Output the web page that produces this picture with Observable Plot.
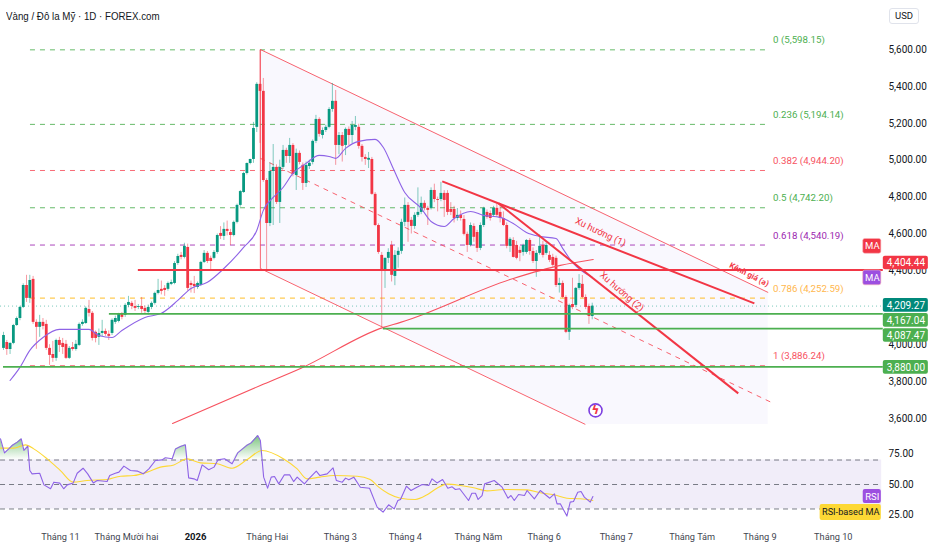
<!DOCTYPE html>
<html><head><meta charset="utf-8">
<script src="https://cdn.jsdelivr.net/npm/d3@7"></script>
<script src="https://cdn.jsdelivr.net/npm/@observablehq/plot@0.6"></script>
<style>
html,body{margin:0;padding:0;background:#fff}
#wrap{position:relative;width:932px;height:550px;overflow:hidden;font-family:Roboto,sans-serif}
#wrap svg{display:block}
#title{position:absolute;left:6px;top:10px;font:11px "Liberation Sans",sans-serif;color:#131722;transform:scaleX(.885);transform-origin:left center;white-space:nowrap}
#usd{position:absolute;left:889px;top:8px;width:28px;height:14px;line-height:14px;text-align:center;font-size:9.5px;color:#131722;border:1px solid #e0e3eb;border-radius:3px}
</style></head><body>
<div id="wrap"><div id="chart"></div><div id="title">Vàng / Đô la Mỹ · 1D · FOREX.com</div><div id="usd">USD</div></div>
<script>
// daily candles: open, high, low, close
const barsA = [[3980,4067,3969,4050],[4012,4023,3942,3974],[3974,4010,3947,4007],[4007,4110,4000,4104],[4104,4150,4099,4142],[4142,4208,4130,4202],[4202,4330,4196,4321],[4321,4376,4229,4251],[4251,4376,4224,4348],[4354,4370,4110,4121],[4121,4135,3975,4094],[4094,4159,4040,4121],[4121,4142,4080,4099],[4110,4132,3969,3980],[3980,4000,3888,3942],[3947,4018,3904,3926],[3926,4030,3910,4023],[4023,4040,3958,3996],[4007,4034,3947,3985],[4002,4023,3920,3926],[3926,3990,3920,3980],[3985,4012,3965,3974],[3974,4023,3965,4002],[3996,4118,3990,4110],[4110,4135,4100,4121],[4115,4205,4110,4197],[4191,4240,4150,4170],[4170,4180,4020,4034],[4067,4075,4010,4034],[4040,4085,3996,4061],[4061,4132,4040,4072],[4072,4085,4045,4056],[4056,4075,4023,4045],[4061,4140,4050,4132],[4121,4155,4110,4142],[4126,4170,4118,4164],[4164,4175,4135,4148],[4159,4222,4148,4213],[4213,4262,4200,4229],[4224,4235,4190,4207],[4207,4240,4180,4197],[4202,4218,4190,4207],[4207,4256,4170,4191],[4197,4210,4165,4180],[4175,4215,4160,4202]];
const barsB = [[4202,4232,4190,4224],[4224,4285,4215,4278],[4278,4354,4270,4294],[4300,4345,4270,4289],[4305,4320,4262,4294],[4300,4340,4290,4332],[4327,4350,4320,4337],[4332,4450,4325,4440],[4440,4490,4430,4478],[4484,4500,4460,4473],[4473,4550,4465,4533],[4527,4545,4290,4305],[4332,4345,4280,4321],[4327,4370,4277,4315],[4310,4340,4300,4332],[4321,4452,4315,4446],[4446,4510,4440,4495],[4495,4505,4440,4451],[4468,4480,4403,4451],[4468,4510,4460,4500],[4500,4600,4490,4592],[4603,4640,4570,4587],[4587,4660,4565,4625],[4625,4670,4590,4614],[4608,4625,4538,4592],[4592,4670,4585,4663],[4663,4762,4655,4755],[4755,4836,4745,4830],[4825,4935,4820,4928],[4928,4985,4920,4982],[4982,5005,4975,5004],[5004,5205,4983,5172],[5178,5420,5150,5411]];
const barsC = [[5411,5595,5091,5373],[5373,5443,4880,4890],[4890,4900,4403,4657],[4657,4985,4640,4939],[4939,5085,4646,4961],[4961,4975,4760,4771],[4771,5000,4657,4961],[4961,5080,4950,5053],[5053,5065,4983,5020],[5020,5118,4983,5080],[5080,5090,4910,4923],[4917,5060,4836,5037],[5037,5050,4975,4988],[4972,4985,4836,4874],[4874,4990,4852,4972],[4966,5000,4950,4983],[4988,5110,4975,5102],[5102,5243,5090,5221],[5221,5230,5125,5140],[5134,5175,5115,5161],[5161,5190,5150,5178],[5178,5285,5170,5275],[5275,5416,5260,5319],[5319,5378,4972,5080],[5080,5150,5030,5134],[5134,5150,4990,5075],[5080,5175,5025,5167],[5167,5180,5080,5134],[5134,5210,5090,5188],[5178,5237,5160,5188],[5178,5195,5060,5075],[5075,5085,4990,5015],[5015,5030,4972,5004],[5000,5042,4955,5010],[5004,5015,4810,4815],[4815,4825,4640,4646],[4646,4655,4490,4500],[4484,4500,4094,4403],[4403,4470,4305,4468],[4468,4520,4440,4500],[4538,4560,4340,4376],[4370,4510,4320,4484],[4484,4525,4415,4506]];
const barsD = [[4506,4680,4490,4663],[4663,4795,4640,4755],[4755,4770,4555,4663],[4674,4690,4600,4641],[4641,4715,4625,4701],[4701,4850,4690,4717],[4717,4800,4705,4766],[4766,4780,4725,4739],[4739,4750,4646,4728],[4739,4850,4730,4836],[4836,4870,4770,4787],[4787,4800,4720,4782],[4787,4880,4775,4820],[4820,4835,4690,4782],[4820,4835,4700,4717],[4733,4770,4700,4717],[4733,4750,4660,4684],[4684,4738,4670,4701],[4701,4725,4670,4684],[4679,4700,4590,4598],[4598,4610,4500,4538],[4538,4660,4530,4646],[4641,4655,4555,4582],[4608,4620,4500,4522],[4522,4660,4510,4646],[4646,4745,4635,4739],[4717,4730,4680,4690],[4711,4725,4670,4684],[4701,4750,4690,4739],[4739,4765,4690,4701],[4717,4760,4660,4684],[4684,4720,4640,4646],[4646,4660,4520,4533],[4533,4580,4500,4571],[4565,4580,4470,4473],[4538,4560,4460,4468],[4511,4530,4450,4495],[4500,4545,4480,4538],[4500,4570,4490,4565],[4565,4575,4485,4505],[4505,4525,4440,4451],[4451,4510,4365,4495],[4495,4595,4485,4533],[4538,4560,4470,4484],[4495,4550,4485,4538],[4484,4505,4445,4457],[4473,4490,4420,4430],[4468,4480,4310,4321],[4321,4360,4280,4332],[4332,4345,4250,4256],[4256,4265,4060,4067],[4067,4220,4023,4213],[4218,4360,4190,4202],[4213,4310,4200,4305],[4305,4380,4295,4332],[4327,4375,4250,4256],[4256,4270,4190,4202],[4207,4220,4110,4153],[4153,4225,4135,4209]];

// moving average 50 [bar, price]
const maLine = [[2,3806],[5,3877],[8,3969],[12,4039],[17,4083],[26,4083],[29,4050],[33,4039],[36,4077],[43,4148],[48,4170],[53,4240],[57,4305],[62,4338],[67,4413],[73,4527],[77,4619],[79,4728],[82,4798],[85,4852],[88,4928],[92,4983],[96,5026],[99,5020],[101,5010],[104,5064],[108,5102],[113,5113],[115.5,5069],[118.5,4955],[122,4825],[127,4739],[130,4668],[134,4641],[137,4684],[142,4722],[146,4701],[151,4690],[155,4657],[159,4608],[163,4587],[168,4576],[170,4522],[173,4446],[179,4365]];
// moving average 200 [bar, price]
const ma200Line = [[51.4,3573],[78.1,3779],[90.3,3871],[115.5,4094],[120.7,4121],[155,4359],[169.3,4430],[179.3,4462]];

// Fibonacci retracement
const fibLevels = [0,0.236,0.382,0.5,0.618,0.786,1];
const fibPrices = [5598.15,5194.14,4944.20,4742.20,4540.19,4252.59,3886.24];
const fibColors = ["#4caf50","#4caf50","#f7525f","#4caf50","#9c27b0","#ffb300","#f7525f"];
const fibText = ["#4caf50","#4caf50","#f7525f","#4caf50","#9c27b0","#ffb74d","#f7525f"];

// price levels [start bar, price, colour]
const levelStart = [41,32.2,115.5,0];
const levelPrice = [4404.44,4167.04,4087.47,3880];
const levelColor = ["#f23645","#4caf50","#4caf50","#4caf50"];
const lastPrice = 4209.27;

// channel [bar, top, bottom]
const channelBars = [78.1,176.9,232.5];
const channelTop = [5600,4760,4283];
const channelBottom = [4413,3568,3568];
const channelLines = [[78.1,5600,232.5,4283],[78.1,4413,176.9,3568],[78.1,5600,78.1,4413]];
const channelMid = [[78.1,5010,233.5,3687]];
const trendLines = [[133.4,4885,228.3,4224],[150.5,4766,223.4,3736]];

const priceTicks = [5600,5400,5200,5000,4800,4600,4400,4000,3800,3600];
const lineLabels = [["Xu hướng (1)",181.5,4610,25.5,9.5,400],["Xu hướng (2)",188,4288,41,9.5,400],["Kênh giá (a)",226.7,4380,27,8,700]];

// price badges
const badgeText = ["4,404.44","4,209.27","4,167.04","4,087.47","3,880.00"];
const badgePrice = [4443,4213,4132,4050,3877];
const badgeFill = ["#f23645","#00897b","#4caf50","#4caf50","#4caf50"];
const tagText = ["MA","MA"];
const tagPrice = [4533,4362];
const tagFill = ["#f23645","#9c4fe0"];

// RSI [bar, value]
const rsiLine = [[-0.9,87.3],[0.3,75.8],[1.6,79.1],[2.6,81.8],[4.2,84.6],[5.4,87.3],[6.2,77.8],[7.4,81.3],[8,61.4],[8.7,58.7],[11,59.2],[12.3,49.7],[14.3,46.5],[15.3,51.9],[17.1,51.1],[18.3,46.5],[19.4,49.7],[21.2,51.3],[22.4,59.2],[24.2,63.3],[25.6,58.7],[27.3,51.3],[28.5,53.3],[31.5,52.4],[32.3,57.3],[34,59.2],[35.1,60.1],[36.6,65],[38.6,61.4],[40.8,60.9],[42.5,58.7],[44.2,62.8],[46.2,69.6],[48.2,70.1],[49.2,71.8],[51.3,71],[52.3,79.1],[53.8,81],[55.3,82.4],[56.3,55.4],[57.9,54.6],[58.9,53.3],[60.4,66],[62.4,62],[64,64.2],[65.2,70.1],[67.2,71],[69.5,66.9],[71.2,75.8],[73.9,81.8],[75.3,84],[77.3,90],[78.1,85.9],[79.1,56],[80.3,47],[81.4,56],[82.4,56.5],[83.7,50.5],[85.4,57.9],[87,57.9],[88.2,52.4],[89.3,56],[91.5,50.5],[92.8,54.6],[95.1,60.9],[96.2,57.3],[98.4,58.7],[100.2,63.6],[101.2,53.3],[103,51.9],[104,55.2],[105,53.8],[106.5,56],[108.5,47.8],[111.3,47],[113.6,31.5],[115.4,27.4],[117.1,33.4],[118.8,30.1],[119.9,36.9],[120.7,37.8],[122.5,48.6],[123.9,45.1],[125.7,47.8],[127.3,50],[129.3,49.2],[130.3,54.6],[131.8,51.3],[133.5,54.1],[135.1,47],[136.4,48.1],[137.4,45.9],[138.7,46.5],[141.4,36.9],[142.4,42.9],[143.5,42.9],[144.3,37.8],[145.5,41],[146.3,50.5],[149.2,53.3],[151.6,47.8],[153.4,38.8],[154.3,41],[155.3,36.9],[156.6,41.8],[158.4,41],[159.2,45.1],[161.4,38.3],[163.2,45.1],[166.1,38.8],[167.5,42.4],[168.3,34.2],[169.3,34.2],[171.3,24.2],[172.3,35.6],[173.3,36.1],[174.6,43.7],[175.6,44.3],[176.6,39.7],[178.4,35.6],[179.2,40.2]];
const rsiMaLine = [[-0.9,79.7],[3.1,79.7],[6.7,82.4],[9.2,79.1],[13.3,70.9],[17.3,61.4],[21.2,51.9],[25.4,53.3],[31.5,54.1],[35.6,56.8],[39.6,57.3],[43.7,60.1],[47.7,64.2],[51.8,66],[55.8,70.9],[59.9,67.7],[65,66.9],[69.5,63.3],[74.1,70.4],[78.6,77.8],[85.2,70.9],[89.3,62.8],[92.3,54.6],[96.2,56],[100.4,57.3],[107.5,56.8],[111.5,54.1],[114.1,47.8],[117.1,42.4],[120.7,38.8],[125.2,37.8],[128.8,41.6],[131.8,47],[134.8,50.3],[138.9,49.2],[143,47.3],[147,44.8],[152.1,45.9],[159.2,45.6],[163.2,43.2],[167.3,41.6],[171.3,38.8],[175.4,38.3],[179.2,36.9]];
const rsiBands = [70,50,30];
const rsiTicks = [75,50,25];

// time axis
const monthBars = [17.3,37.4,80.2,102.4,122.2,144.4,164.4,186.3,209.4,230,252.3];
const monthNames = ["Tháng 11","Tháng Mười hai","Tháng Hai","Tháng 3","Tháng 4","Tháng Năm","Tháng 6","Tháng 7","Tháng Tám","Tháng 9","Tháng 10"];
const yearBar = 58.4, yearName = "2026";

const GREEN="#089981", RED="#f23645", PINK="#f7525f";
const bars = [...barsA,...barsB,...barsC,...barsD].map(([o,h,l,c],i)=>({i,o,h,l,c,col:c>=o?GREEN:RED}));
const xOpt = {domain:[-0.912,267.56],range:[0,883]};
const FONT = "Roboto, sans-serif";
const seg = a=>a.map(([x1,y1,x2,y2])=>({x1,y1,x2,y2}));
const badgeX1=267.5, badgeX2=281.2, tagX1=261.4, tagX2=266.9;

const main = Plot.plot({
  width:932,height:430,marginTop:0,marginLeft:0,marginRight:49,marginBottom:0,
  style:{fontFamily:FONT,background:"transparent"},
  x:{...xOpt,axis:null},
  y:{domain:[3600,5600],range:[418,49],axis:null},
  color:{type:"identity"},
  marks:[
    Plot.area(channelBars.map((b,k)=>({b,t:channelTop[k],u:channelBottom[k]})),{x1:"b",y1:"t",y2:"u",fill:"#f9f8fe"}),
    Plot.ruleY(fibPrices.map((p,k)=>({p,c:fibColors[k]})),{y:"p",x1:8.2,x2:232,stroke:"c",strokeWidth:1,strokeOpacity:.85,strokeDasharray:"5 5"}),
    Plot.ruleY([lastPrice],{x1:-0.9,x2:267.5,stroke:"#089981",strokeOpacity:.55,strokeWidth:1,strokeDasharray:"1 3"}),
    Plot.link(seg(channelLines),{x1:"x1",y1:"y1",x2:"x2",y2:"y2",stroke:PINK,strokeWidth:1,strokeOpacity:.9}),
    Plot.link(seg(channelMid),{x1:"x1",y1:"y1",x2:"x2",y2:"y2",stroke:PINK,strokeWidth:1,strokeOpacity:.9,strokeDasharray:"5 5"}),
    Plot.ruleX(bars,{x:"i",y1:"l",y2:"h",stroke:"col",strokeWidth:1,strokeOpacity:.5}),
    Plot.ruleX(bars,{x:"i",y1:"o",y2:"c",stroke:"col",strokeWidth:2.8}),
    Plot.line(ma200Line,{x:d=>d[0],y:d=>d[1],stroke:PINK,strokeWidth:1.1,curve:"monotone-x"}),
    Plot.line(maLine,{x:d=>d[0],y:d=>d[1],stroke:"#8e63e6",strokeWidth:1.1,curve:"monotone-x"}),
    Plot.link(seg(trendLines),{x1:"x1",y1:"y1",x2:"x2",y2:"y2",stroke:RED,strokeWidth:2}),
    Plot.ruleY(levelPrice.map((p,k)=>({p,s:levelStart[k],c:levelColor[k]})),{y:"p",x1:"s",x2:267.5,stroke:"c",strokeWidth:d=>d.p>4400?2:1.7}),
    Plot.text(fibLevels.map((l,k)=>({t:`${l} (${d3.format(",.2f")(fibPrices[k])})`,p:fibPrices[k],c:fibText[k]})),{x:234,y:"p",dy:-9.5,text:"t",fill:"c",textAnchor:"start",fontSize:9.7}),
    ...lineLabels.map(([t,x,y,rotate,fontSize,fontWeight])=>Plot.text([t],{x:()=>x,y:()=>y,text:d=>d,rotate,fontSize,fontWeight,fill:RED})),
    Plot.axisY({anchor:"right",ticks:priceTicks,tickSize:0,tickPadding:5,tickFormat:d3.format(",.2f"),fontSize:10,label:null,fill:"#131722"}),
    Plot.rect(tagText.map((t,k)=>({p:tagPrice[k],c:tagFill[k]})),{x1:tagX1,x2:tagX2,y1:d=>d.p-40,y2:d=>d.p+40,fill:"c",stroke:"#f9b4ba",strokeWidth:.6,rx:2}),
    Plot.text(tagText.map((t,k)=>({t,p:tagPrice[k]})),{x:(tagX1+tagX2)/2,y:"p",text:"t",fill:"#fff",fontSize:9.5}),
    Plot.rect(badgeText.map((t,k)=>({p:badgePrice[k],c:badgeFill[k]})),{x1:badgeX1,x2:badgeX2,y1:d=>d.p-37,y2:d=>d.p+37,fill:"c",rx:2}),
    Plot.text(badgeText.map((t,k)=>({t,p:badgePrice[k]})),{x:(badgeX1+badgeX2)/2,y:"p",text:"t",fill:"#fff",fontSize:10}),
    Plot.dot([[180,3644]],{x:d=>d[0],y:d=>d[1],r:6.5,stroke:"#7c3fe0",strokeWidth:1.6,fill:"#fff"}),
    Plot.text([[180,3644]],{x:d=>d[0],y:d=>d[1],text:()=>"ϟ",fill:"#f23645",fontSize:12,fontWeight:700,fontFamily:"DejaVu Sans"})
  ]
});

const grad = () => {
  const defs = d3.create("svg:defs");
  const g = defs.append("linearGradient").attr("id","obGrad").attr("x1",0).attr("x2",0).attr("y1",0).attr("y2",1);
  g.append("stop").attr("offset","0%").attr("stop-color","#4caf50").attr("stop-opacity",.75);
  g.append("stop").attr("offset","100%").attr("stop-color","#4caf50").attr("stop-opacity",0);
  return defs.node();
};

const rsiPlot = Plot.plot({
  width:932,height:120,marginTop:0,marginLeft:0,marginRight:49,marginBottom:20,
  style:{fontFamily:FONT,background:"transparent"},
  x:{...xOpt,axis:null},
  y:{domain:[25,75],range:[84.6,23.4],axis:null},
  marks:[
    grad,
    Plot.rect([0],{x1:-0.9,x2:267,y1:30,y2:70,fill:"#f1edf9"}),
    Plot.ruleY(rsiBands,{x1:-0.9,x2:267,stroke:"#787b86",strokeWidth:1,strokeDasharray:"5 4"}),
    Plot.area(rsiLine,{x1:d=>d[0],y1:()=>70,y2:d=>Math.max(d[1],70),fill:"url(#obGrad)"}),
    Plot.line(rsiMaLine,{x:d=>d[0],y:d=>d[1],stroke:"#fdd835",strokeWidth:1.1,curve:"monotone-x"}),
    Plot.line(rsiLine,{x:d=>d[0],y:d=>d[1],stroke:"#8e63e6",strokeWidth:1.1}),
    Plot.axisY({anchor:"right",ticks:rsiTicks,tickSize:0,tickPadding:5,tickFormat:d3.format(".2f"),fontSize:10,label:null,fill:"#131722"}),
    Plot.rect([40.2],{x1:tagX1,x2:tagX2,y1:d=>d-5.7,y2:d=>d+5.7,fill:"#9c4fe0",rx:2}),
    Plot.text([40.2],{x:(tagX1+tagX2)/2,y:d=>d,text:()=>"RSI",fill:"#fff",fontSize:9.5}),
    Plot.rect([27.1],{x1:248.3,x2:tagX2,y1:d=>d-6.5,y2:d=>d+6.5,fill:"#fdd835",rx:2}),
    Plot.text([27.1],{x:(248.3+tagX2)/2,y:d=>d,text:()=>"RSI-based MA",fill:"#131722",fontSize:9.2}),
    Plot.text(monthBars.map((b,k)=>({b,t:monthNames[k]})),{x:"b",frameAnchor:"bottom",dy:9,text:"t",fontSize:9.2,fill:"#434651"}),
    Plot.text([yearBar],{x:d=>d,frameAnchor:"bottom",dy:9,text:()=>yearName,fontSize:9.5,fontWeight:700,fill:"#131722"})
  ]
});
document.getElementById("chart").append(main,rsiPlot);
</script>
</body></html>
